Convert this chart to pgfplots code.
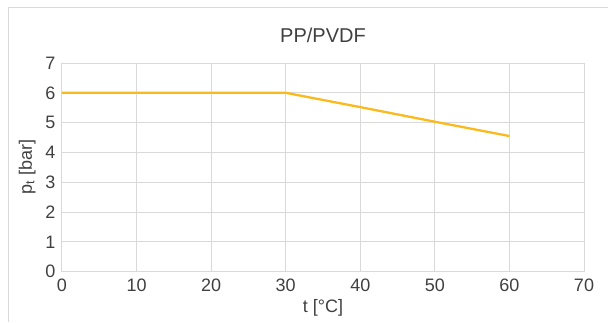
\documentclass[border=0pt]{standalone}
\usepackage{pgfplots}
\pgfplotsset{compat=1.18}
\usepackage{fontspec}
\setmainfont{Liberation Sans}
\definecolor{linec}{RGB}{250,186,30}
\definecolor{gridc}{RGB}{217,217,217}
\definecolor{txtc}{RGB}{64,64,64}
\begin{document}
\begin{tikzpicture}[x=1pt,y=1pt]
\useasboundingbox (0,0) rectangle (608,322);
\draw[gridc, line width=1pt] (8,0) -- (8,314) -- (620,314);
\begin{axis}[
  at={(62pt,50.3pt)}, anchor=south west,
  scale only axis, width=522pt, height=208.7pt,
  xmin=0, xmax=70, ymin=0, ymax=7,
  xtick={0,10,...,70}, ytick={0,1,...,7},
  grid=major,
  major grid style={gridc, line width=1pt},
  axis line style={gridc, line width=1pt},
  major tick length=0pt,
  tick label style={font=\fontsize{18}{20}\selectfont, text=txtc},
  xticklabel style={yshift=-4pt},
  yticklabel style={xshift=-3pt},
  /pgf/number format/assume math mode=true,
  xlabel={t [°C]},
  xlabel style={font=\fontsize{18}{20}\selectfont, text=txtc, yshift=-1pt},
  ylabel={p\textsubscript{t} [bar]},
  ylabel style={font=\fontsize{18}{20}\selectfont, text=txtc, yshift=3pt},
  title={PP/PVDF},
  title style={font=\fontsize{20}{22}\selectfont, text=txtc, yshift=11pt},
  axis on top=false,
]
\addplot[linec, line width=2.3pt] coordinates {(0,6) (10,6) (20,6) (30,6) (40,5.52) (50,5.03) (60,4.55)};
\end{axis}
\end{tikzpicture}
\end{document}
